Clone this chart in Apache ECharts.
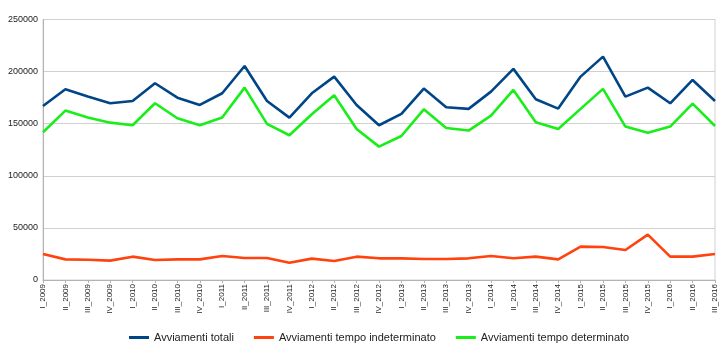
<!DOCTYPE html>
<html><head><meta charset="utf-8">
<script src="https://cdn.jsdelivr.net/npm/echarts@6/dist/echarts.min.js"></script>
<style>html,body{margin:0;padding:0;background:#fff}#c{width:723px;height:363px}</style>
</head><body><div id="c"></div>
<script>
var categories = ["I_2009","II_2009","III_2009","IV_2009","I_2010","II_2010","III_2010","IV_2010","I_2011","II_2011","III_2011","IV_2011","I_2012","II_2012","III_2012","IV_2012","I_2013","II_2013","III_2013","IV_2013","I_2014","II_2014","III_2014","IV_2014","I_2015","II_2015","III_2015","IV_2015","I_2016","II_2016","III_2016"];
var totali = [167000,183000,176000,169600,171800,188800,175000,168000,179200,205400,171800,155800,179200,195200,168000,148500,159400,183700,165800,164200,180800,202600,173400,164500,195200,214400,176000,184600,169600,192000,171800];
var indeterminato = [25000,19800,19500,18600,22400,19200,19800,19800,23000,21100,21100,16600,20500,18200,22400,20800,20800,20200,20200,20800,23000,20800,22400,19800,32000,31700,28800,43500,22400,22400,25000];
var determinato = [141800,162600,156000,151000,148500,169600,155200,148500,156000,184600,149800,138900,159000,177300,145000,128000,138200,163800,145900,143400,157800,182400,151400,145000,164200,183400,147200,141400,147200,169300,147800];
var yTicks = [0,50000,100000,150000,200000,250000];

var chart = echarts.init(document.getElementById('c'), null, {renderer:'canvas'});
function mk(name, data, color){
  return {name:name, type:'line', data:data, symbol:'none', smooth:false,
    lineStyle:{color:color, width:2.6}, itemStyle:{color:color}};
}
chart.setOption({
  animation:false,
  textStyle:{fontFamily:'Liberation Sans'},
  grid:{left:43, right:8, top:19.5, bottom:83, show:true, borderColor:'#d0d0d0', borderWidth:1, containLabel:false},
  legend:{bottom:15, left:124, itemWidth:20, itemHeight:3, itemGap:20, icon:'rect',
    textStyle:{fontSize:11, color:'#222', fontFamily:'Liberation Sans'},
    data:['Avviamenti totali','Avviamenti tempo indeterminato','Avviamenti tempo determinato']},
  xAxis:{type:'category', data:categories, boundaryGap:false,
    axisLine:{lineStyle:{color:'#b3b3b3'}},
    axisTick:{show:true, length:3, lineStyle:{color:'#b3b3b3'}},
    axisLabel:{rotate:90, fontSize:8, color:'#222', margin:4, interval:0},
    splitLine:{show:false}},
  yAxis:{type:'value', min:0, max:250000, interval:50000,
    axisLine:{show:true, lineStyle:{color:'#b3b3b3'}},
    axisTick:{show:false},
    axisLabel:{fontSize:9, color:'#222', margin:5, formatter:function(v){return yTicks.indexOf(v)>=0?String(v):'';}},
    splitLine:{lineStyle:{color:'#d0d0d0'}}},
  series:[mk('Avviamenti totali', totali, '#004586'), mk('Avviamenti tempo indeterminato', indeterminato, '#ff420e'), mk('Avviamenti tempo determinato', determinato, '#1aee1a')]
});
</script></body></html>
